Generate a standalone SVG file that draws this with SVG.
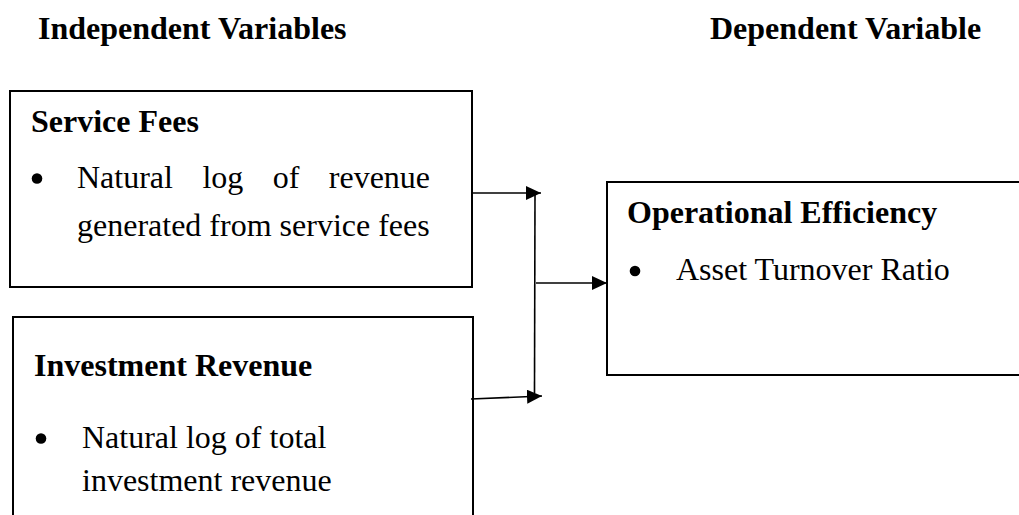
<svg xmlns="http://www.w3.org/2000/svg" width="1019" height="515" viewBox="0 0 1019 515">
<style>
.box{fill:none;stroke:#000;stroke-width:2}
.h{font-family:"Liberation Serif",serif;font-weight:bold;font-size:32px;fill:#000}
.t{font-family:"Liberation Serif",serif;font-size:32px;fill:#000}
.c{stroke:#000;stroke-width:1.6;fill:none}
</style>
<defs>
<marker id="ah" markerUnits="userSpaceOnUse" markerWidth="16" markerHeight="16" refX="15" refY="7" orient="auto">
<path d="M0,0 L15,7 L0,14 z" fill="#000"/>
</marker>
</defs>
<g id="headers">
<text class="h" x="38" y="39">Independent Variables</text>
<text class="h" x="710" y="39">Dependent Variable</text>
</g>
<g id="service-fees">
<rect class="box" x="10" y="91" width="462" height="196"/>
<text class="h" x="31" y="132">Service Fees</text>
<circle cx="37" cy="178.5" r="5.3"/>
<text class="t" y="188"><tspan x="77">Natural</tspan><tspan x="202.4">log</tspan><tspan x="272.7">of</tspan><tspan x="328.8">revenue</tspan></text>
<text class="t" x="77" y="236">generated from service fees</text>
</g>
<g id="investment-revenue">
<rect class="box" x="13" y="317" width="460" height="220"/>
<text class="h" x="34" y="376">Investment Revenue</text>
<circle cx="41" cy="438.5" r="5.3"/>
<text class="t" x="82" y="448">Natural log of total</text>
<text class="t" x="82" y="491">investment revenue</text>
</g>
<g id="operational-efficiency">
<rect class="box" x="607" y="182" width="430" height="193"/>
<text class="h" x="627" y="223">Operational Efficiency</text>
<circle cx="635" cy="271" r="5.3"/>
<text class="t" x="676" y="280">Asset Turnover Ratio</text>
</g>
<g id="connectors">
<line class="c" x1="472" y1="193" x2="541" y2="193" marker-end="url(#ah)"/>
<line class="c" x1="471" y1="399" x2="542" y2="396" marker-end="url(#ah)"/>
<line class="c" x1="535" y1="194" x2="534.5" y2="393"/>
<line class="c" x1="536" y1="283" x2="607" y2="283" marker-end="url(#ah)"/>
</g>
</svg>
